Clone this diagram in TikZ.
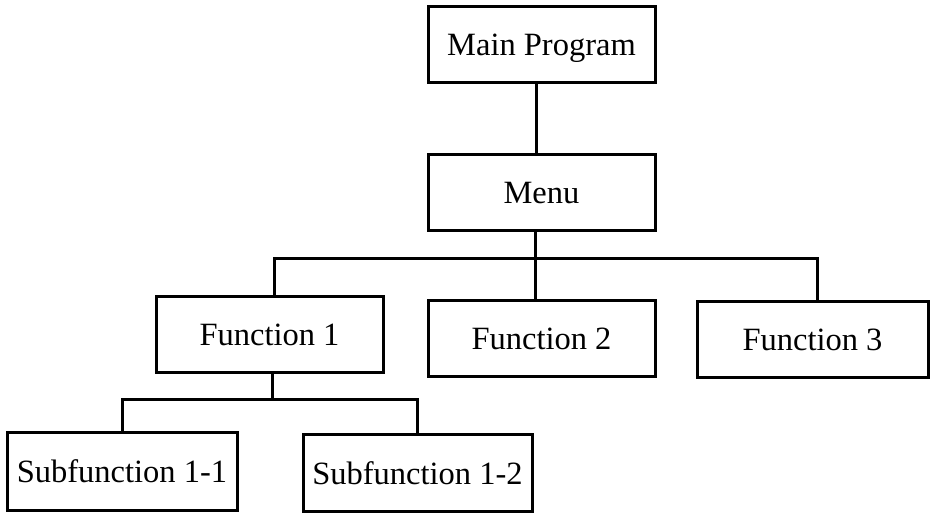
\documentclass[tikz,border=0pt]{standalone}
\usepackage{fontspec}
\setmainfont{Liberation Serif}
\usetikzlibrary{calc}
\begin{document}
\begin{tikzpicture}[x=1pt,y=-1pt,
  box/.style={draw, line width=3pt, rectangle, inner sep=0pt,
    minimum width=#1, minimum height=76pt,
    font=\fontsize{32.5}{38}\selectfont, text height=22pt, text depth=0pt},
  box/.default=227pt,
  link/.style={line width=3pt}]
\useasboundingbox (0,0) rectangle (932,513);
% boxes
\node[box] (main) at (541.5,45) {Main Program};
\node[box] (menu) at (541.5,193) {Menu};
\node[box] (f1) at (269.5,334) {Function 1};
\node[box] (f2) at (541.5,338) {Function 2};
\node[box=231pt] (f3) at (812.5,339) {Function 3};
\node[box=230pt, minimum height=78pt] (s1) at (122,471) {Subfunction 1-1};
\node[box=229pt, minimum height=77pt] (s2) at (417.5,473) {Subfunction 1-2};
% bus levels and connector drop points
\coordinate (bus) at (0,259);
\coordinate (sbus) at (0,399);
\coordinate (mainout) at ($(main.south)+(-5.5,0)$);
\coordinate (menuin) at ($(menu.north)+(-5.5,0)$);
\coordinate (menuout) at ($(menu.south)+(-6,0)$);
\coordinate (f1in) at ($(f1.north)+(4.5,0)$);
\coordinate (f2in) at ($(f2.north)+(-6,0)$);
\coordinate (f3in) at ($(f3.north)+(4.5,0)$);
\coordinate (f1out) at ($(f1.south)+(2.5,0)$);
% connectors
\draw[link] (mainout) -- (menuin);
\draw[link] (menuout) -- (menuout |- bus);
\draw[link] (f1in) |- (f3in |- bus) -- (f3in);
\draw[link] (f2in) -- (f2in |- bus);
\draw[link] (f1out) -- (f1out |- sbus);
\draw[link] (s1.north) |- (s2.north |- sbus) -- (s2.north);
\end{tikzpicture}
\end{document}
